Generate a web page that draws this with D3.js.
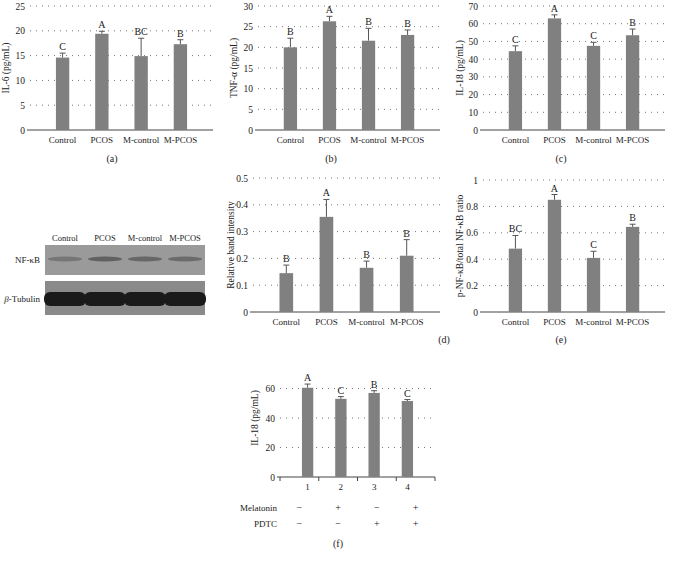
<!DOCTYPE html><html><head><meta charset="utf-8"><script src="https://cdn.jsdelivr.net/npm/d3@7"></script>
<style>body{margin:0;background:#fff}text{font-family:"Liberation Serif","DejaVu Serif",serif;fill:#222}</style></head><body>
<svg id="s" width="673" height="561"></svg>
<script>
const groups=["Control","PCOS","M-control","M-PCOS"];
const il6=[14.6,19.4,14.9,17.3], il6Err=[0.9,0.5,3.6,0.9], il6Let=["C","A","BC","B"];
const tnf=[20.0,26.3,21.6,23.0], tnfErr=[2.2,1.2,3.0,1.2], tnfLet=["B","A","B","B"];
const il18=[44.5,63.0,47.5,53.5], il18Err=[3.0,2.0,2.0,3.5], il18Let=["C","A","C","B"];
const band=[0.145,0.355,0.165,0.21], bandErr=[0.03,0.065,0.025,0.06], bandLet=["B","A","B","B"];
const ratio=[0.48,0.85,0.41,0.645], ratioErr=[0.1,0.04,0.05,0.02], ratioLet=["BC","A","C","B"];
const fCats=["1","2","3","4"], fVals=[60.5,53.0,57.0,51.5], fErr=[2.5,1.5,1.5,1.0], fLet=["A","C","B","C"];
const melatonin=["−","+","−","+"], pdtc=["−","−","+","+"];
const svg=d3.select("#s");
function panel(o){
  const g=svg.append("g");
  const x=d3.scaleBand().domain(o.cats).range([o.x0,o.x1]).padding(0.66);
  const y=d3.scaleLinear().domain([0,o.max]).range([o.y0,o.y1]);
  o.ticks.forEach(t=>{
    if(t>0)g.append("line").attr("x1",o.x0).attr("x2",o.x1).attr("y1",y(t)).attr("y2",y(t)).attr("stroke","#777").attr("stroke-dasharray","1,5");
    g.append("text").attr("x",o.x0-5).attr("y",y(t)+3.5).attr("text-anchor","end").attr("font-size",9.5).text(o.fmt?o.fmt(t):t);
  });
  g.append("line").attr("x1",o.x0).attr("x2",o.x1).attr("y1",o.y0).attr("y2",o.y0).attr("stroke","#444");
  g.append("line").attr("x1",o.x0).attr("x2",o.x0-3).attr("y1",o.y0).attr("y2",o.y0).attr("stroke","#444");
  if(o.tickMarks){const step=(o.x1-o.x0)/4;for(let i=0;i<=4;i++)g.append("line").attr("x1",o.x0+i*step).attr("x2",o.x0+i*step).attr("y1",o.y0).attr("y2",o.y0+4).attr("stroke","#444");}
  o.vals.forEach((v,i)=>{
    const cx=x(o.cats[i])+x.bandwidth()/2, top=y(v+o.err[i]);
    g.append("line").attr("x1",cx).attr("x2",cx).attr("y1",y(v)).attr("y2",top).attr("stroke","#555");
    g.append("line").attr("x1",cx-3).attr("x2",cx+3).attr("y1",top).attr("y2",top).attr("stroke","#555");
    g.append("rect").attr("x",x(o.cats[i])).attr("width",x.bandwidth()).attr("y",y(v)).attr("height",o.y0-y(v)).attr("fill","#808080");
    g.append("text").attr("x",cx).attr("y",top-3).attr("text-anchor","middle").attr("font-size",10).text(o.lets[i]);
    g.append("text").attr("x",cx).attr("y",o.y0+13).attr("text-anchor","middle").attr("font-size",9).text(o.cats[i]);
  });
  g.append("text").attr("transform",`translate(${o.ylx},${(o.y0+o.y1)/2}) rotate(-90)`).attr("text-anchor","middle").attr("font-size",9.5).text(o.ylab);
  g.append("text").attr("x",o.capx).attr("y",o.capy).attr("text-anchor","middle").attr("font-size",10).text(o.cap);
}
panel({cats:groups,vals:il6,err:il6Err,lets:il6Let,x0:30,x1:213,y0:130,y1:6,max:25,ticks:[0,5,10,15,20,25],ylab:"IL-6 (pg/mL)",ylx:9,cap:"(a)",capx:112,capy:162});
panel({cats:groups,vals:tnf,err:tnfErr,lets:tnfLet,x0:258,x1:440,y0:130,y1:6,max:30,ticks:[0,5,10,15,20,25,30],ylab:"TNF-α (pg/mL)",ylx:237,cap:"(b)",capx:331,capy:162});
panel({cats:groups,vals:il18,err:il18Err,lets:il18Let,x0:483,x1:665,y0:130,y1:6,max:70,ticks:[0,10,20,30,40,50,60,70],ylab:"IL-18 (pg/mL)",ylx:463,cap:"(c)",capx:561,capy:162});
panel({cats:groups,vals:band,err:bandErr,lets:bandLet,x0:253,x1:440,y0:312,y1:178,max:0.5,ticks:[0,0.1,0.2,0.3,0.4,0.5],fmt:d3.format("~g"),ylab:"Relative band intensity",ylx:234,cap:"(d)",capx:444,capy:343});
panel({cats:groups,vals:ratio,err:ratioErr,lets:ratioLet,x0:483,x1:665,y0:312,y1:180,max:1,ticks:[0,0.2,0.4,0.6,0.8,1],fmt:d3.format("~g"),ylab:"p-NF-κB/total NF-κB ratio",ylx:463,cap:"(e)",capx:561,capy:343});
panel({cats:fCats,vals:fVals,err:fErr,lets:fLet,x0:280,x1:435,y0:477,y1:359,max:80,ticks:[0,20,40,60],tickMarks:true,ylab:"IL-18 (pg/mL)",ylx:258,cap:"(f)",capx:338,capy:547});
const fx=d3.scaleBand().domain(fCats).range([280,435]);
svg.append("text").attr("x",277).attr("y",511).attr("text-anchor","end").attr("font-size",9).text("Melatonin");
svg.append("text").attr("x",277).attr("y",527).attr("text-anchor","end").attr("font-size",9).text("PDTC");
fCats.forEach((c,i)=>{const cx=fx(c)+fx.bandwidth()/2;
  svg.append("text").attr("x",cx).attr("y",511).attr("text-anchor","middle").attr("font-size",10).text(melatonin[i]);
  svg.append("text").attr("x",cx).attr("y",527).attr("text-anchor","middle").attr("font-size",10).text(pdtc[i]);});
const wb=svg.append("g");
const bx=d3.scaleBand().domain(groups).range([45,205]);
groups.forEach(gn=>wb.append("text").attr("x",bx(gn)+bx.bandwidth()/2).attr("y",241).attr("text-anchor","middle").attr("font-size",8.5).text(gn));
wb.append("rect").attr("x",45).attr("y",245).attr("width",160).attr("height",30).attr("fill","#9a9a9a");
wb.append("rect").attr("x",45).attr("y",281).attr("width",160).attr("height",34).attr("fill","#8a8a8a");
const nfI=[0.35,0.55,0.5,0.45];
groups.forEach((gn,i)=>{const cx=bx(gn)+bx.bandwidth()/2;
  wb.append("ellipse").attr("cx",cx).attr("cy",259).attr("rx",17).attr("ry",2.5).attr("fill","#333").attr("opacity",nfI[i]);
  wb.append("rect").attr("x",cx-21).attr("y",292).attr("width",42).attr("height",14).attr("rx",6).attr("fill","#1a1a1a");});
wb.append("text").attr("x",40).attr("y",263).attr("text-anchor","end").attr("font-size",9).text("NF-κB");
wb.append("text").attr("x",40).attr("y",302).attr("text-anchor","end").attr("font-size",9).html('<tspan font-style="italic">β</tspan>-Tubulin');
</script></body></html>
